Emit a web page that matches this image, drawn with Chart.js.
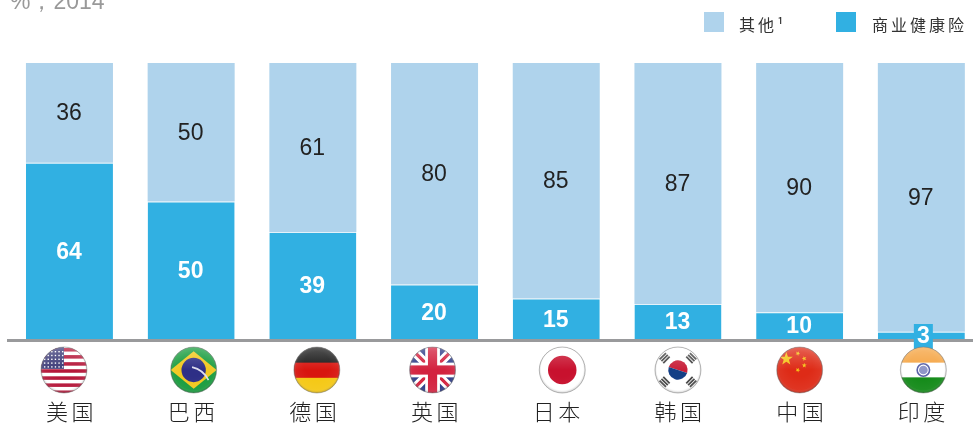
<!DOCTYPE html>
<html lang="zh">
<head>
<meta charset="utf-8">
<script src="https://cdn.jsdelivr.net/npm/chart.js@4/dist/chart.umd.min.js"></script>
<style>
html,body{margin:0;padding:0;background:#fff;overflow:hidden}
#wrap{position:relative;width:973px;height:425px;overflow:hidden}
#box{position:absolute;left:0;top:0;width:983px;height:425px}
#sub{position:absolute;left:10px;top:-14px;font:23px "Liberation Sans",Arial,sans-serif;color:#999;white-space:nowrap}
.lg{position:absolute;top:12px;height:20px;line-height:20px;font:400 16px "Noto Sans CJK SC",sans-serif;color:#333;letter-spacing:3px;white-space:nowrap}
.lg i{position:absolute;left:0;top:0;width:20px;height:20px}
.lg span{position:absolute;top:0;line-height:24px}
</style>
</head>
<body>
<div id="wrap">
<div id="box"><canvas id="c"></canvas></div>
<div id="sub"></div>
<div class="lg" id="l0" style="left:704px"><i></i><span style="left:35px"></span></div>
<div class="lg" id="l1" style="left:836px"><i></i><span style="left:36px"></span></div>
</div>
<script>
const subtitle = "%，2014";
const categories = ["美国","巴西","德国","英国","日本","韩国","中国","印度"];
const flagCodes = ["us","br","de","gb","jp","kr","cn","in"];
const seriesOtherName = "其他¹";
const seriesInsName = "商业健康险";
const otherValues = [36,50,61,80,85,87,90,97];
const insuranceValues = [64,50,39,20,15,13,10,3];
const colorOther = "#AFD3EC";
const colorIns = "#31B0E2";

document.getElementById("sub").textContent = subtitle;
[[ "l0",seriesOtherName,colorOther ],[ "l1",seriesInsName,colorIns ]].forEach(([id,t,col])=>{
  const e=document.getElementById(id);
  e.querySelector("i").style.background=col;
  e.querySelector("span").textContent=t;
});

function star(ctx,x,y,r,rot){
  ctx.beginPath();
  for(let i=0;i<10;i++){
    const a=rot-Math.PI/2+i*Math.PI/5, q=i%2?r*0.4:r;
    ctx.lineTo(x+Math.cos(a)*q,y+Math.sin(a)*q);
  }
  ctx.closePath();ctx.fill();
}
const painters = {
  us(c,r){
    c.fillStyle="#fff";c.fillRect(-r,-r,2*r,2*r);
    c.fillStyle="#B5173A";
    for(let i=0;i<7;i++){c.fillRect(-r,-r+i*2*r*2/13+1,2*r,2*r/13);}
    c.fillStyle="#3C3B78";c.fillRect(-r,-r,r*1.0,r*0.95);
    c.fillStyle="#fff";
    for(let a=0;a<5;a++)for(let b=0;b<6;b++){c.fillRect(-r+3+b*3.6,-r+4+a*3.8,1.4,1.4);}
  },
  br(c,r){
    c.fillStyle="#169B3C";c.fillRect(-r,-r,2*r,2*r);
    c.fillStyle="#F2C81E";c.beginPath();c.moveTo(-r,0);c.lineTo(0,-r*0.82);c.lineTo(r,0);c.lineTo(0,r*0.82);c.closePath();c.fill();
    c.fillStyle="#2E2F86";c.beginPath();c.arc(0,0,r*0.53,0,7);c.fill();
    c.strokeStyle="#DDE";c.lineWidth=1.6;c.beginPath();c.arc(-r*0.3,r*0.9,r*1.05,-1.35,-0.45);c.stroke();
  },
  de(c,r){
    c.fillStyle="#1A1A1A";c.fillRect(-r,-r,2*r,2*r*0.36);
    c.fillStyle="#D8150F";c.fillRect(-r,-r+2*r*0.34,2*r,2*r*0.34);
    c.fillStyle="#F5C814";c.fillRect(-r,-r+2*r*0.67,2*r,2*r*0.34);
  },
  gb(c,r){
    c.fillStyle="#2A3A86";c.fillRect(-r,-r,2*r,2*r);
    c.strokeStyle="#fff";c.lineWidth=r*0.38;
    c.beginPath();c.moveTo(-r,-r);c.lineTo(r,r);c.moveTo(r,-r);c.lineTo(-r,r);c.stroke();
    c.strokeStyle="#D3223F";c.lineWidth=r*0.14;c.stroke();
    c.fillStyle="#fff";c.fillRect(-r,-r*0.32,2*r,r*0.64);c.fillRect(-r*0.32,-r,r*0.64,2*r);
    c.fillStyle="#D3223F";c.fillRect(-r,-r*0.2,2*r,r*0.4);c.fillRect(-r*0.2,-r,r*0.4,2*r);
  },
  jp(c,r){
    c.fillStyle="#fff";c.fillRect(-r,-r,2*r,2*r);
    c.fillStyle="#C8112E";c.beginPath();c.arc(0,0,r*0.62,0,7);c.fill();
  },
  kr(c,r){
    c.fillStyle="#fff";c.fillRect(-r,-r,2*r,2*r);
    c.fillStyle="#C8203A";c.beginPath();c.arc(0,0,r*0.42,Math.PI*1.1,Math.PI*2.1);c.fill();
    c.fillStyle="#123F86";c.beginPath();c.arc(0,0,r*0.42,Math.PI*0.1,Math.PI*1.1);c.fill();
    c.fillStyle="#444";
    [[-1,-1],[1,-1],[-1,1],[1,1]].forEach(([a,b])=>{
      c.save();c.translate(a*r*0.58,b*r*0.52);c.rotate(Math.atan2(b,a)+Math.PI/2);
      c.fillRect(-4.5,-3.5,9,1.8);c.fillRect(-4.5,-0.9,9,1.8);c.fillRect(-4.5,1.7,9,1.8);c.restore();
    });
  },
  cn(c,r){
    c.fillStyle="#DE2B17";c.fillRect(-r,-r,2*r,2*r);
    c.fillStyle="#F5C518";
    star(c,-r*0.58,-r*0.48,r*0.3,0);
    star(c,-r*0.08,-r*0.72,r*0.11,0.5);
    star(c,r*0.2,-r*0.5,r*0.11,0.9);
    star(c,r*0.2,-r*0.2,r*0.11,0);
    star(c,-r*0.08,0,r*0.11,0.4);
  },
  in(c,r){
    c.fillStyle="#F5A442";c.fillRect(-r,-r,2*r,2*r*0.36);
    c.fillStyle="#fff";c.fillRect(-r,-r+2*r*0.34,2*r,2*r*0.34);
    c.fillStyle="#138A18";c.fillRect(-r,-r+2*r*0.66,2*r,2*r*0.36);
    c.strokeStyle="#5A62A8";c.lineWidth=1.6;c.beginPath();c.arc(0,0,r*0.27,0,7);c.stroke();
    c.fillStyle="#8F96C8";c.beginPath();c.arc(0,0,r*0.19,0,7);c.fill();
  }
};

const decorate = {
  id:"decorate",
  beforeDraw(chart){ chart.ctx.letterSpacing="3.5px"; },
  beforeDatasetsDraw(chart){ chart.ctx.letterSpacing="0px"; },
  afterDraw(chart){
    const ctx=chart.ctx, xs=chart.scales.x;
    ctx.save();
    ctx.letterSpacing="0px";
    ctx.textAlign="center";ctx.textBaseline="middle";
    chart.data.datasets.forEach((ds,di)=>{
      const meta=chart.getDatasetMeta(di);
      meta.data.forEach((bar,i)=>{
        const y=(bar.y+bar.base)/2;
        const v=ds.data[i];
        if(di===0){
          ctx.font='bold 23px "Liberation Sans",Arial,sans-serif';
          if(v<5){ctx.fillStyle=colorIns;ctx.fillRect(bar.x-7.5,324,19,28);}
          ctx.fillStyle="#fff";
        }else{
          ctx.font='23px "Liberation Sans",Arial,sans-serif';
          ctx.fillStyle="#222";
        }
        ctx.fillText(String(v),bar.x+(v<5&&di===0?2:-0.5),y+1);
      });
    });
    const nudge=[-5.5,2.5,4,-2,6,0,0,2];
    const r=23, cy=370;
    flagCodes.forEach((code,i)=>{
      const cx=xs.getPixelForTick(i)+nudge[i];
      ctx.save();
      ctx.translate(cx,cy);
      ctx.beginPath();ctx.arc(0,0,r,0,Math.PI*2);ctx.save();ctx.clip();
      painters[code](ctx,r);
      const sh=ctx.createRadialGradient(0,-r*0.25,r*0.55,0,0,r);
      sh.addColorStop(0,"rgba(255,255,255,0)");
      sh.addColorStop(0.8,"rgba(255,255,255,0.05)");
      sh.addColorStop(1,"rgba(60,60,60,0.3)");
      ctx.fillStyle=sh;ctx.fillRect(-r,-r,2*r,2*r);
      const gl=ctx.createLinearGradient(0,-r,0,0);
      gl.addColorStop(0,"rgba(255,255,255,0.25)");
      gl.addColorStop(1,"rgba(255,255,255,0)");
      ctx.fillStyle=gl;ctx.fillRect(-r,-r,2*r,r);
      ctx.restore();
      ctx.strokeStyle="rgba(120,120,120,0.6)";ctx.lineWidth=0.8;
      ctx.beginPath();ctx.arc(0,0,r,0,Math.PI*2);ctx.stroke();
      ctx.restore();
    });
    ctx.restore();
  }
};

new Chart(document.getElementById("c"),{
  type:"bar",
  data:{
    labels:categories,
    datasets:[
      {label:seriesInsName,data:insuranceValues,backgroundColor:colorIns,borderColor:"#E4F2FA",borderWidth:{top:1},borderSkipped:false,barPercentage:0.715,categoryPercentage:1},
      {label:seriesOtherName,data:otherValues,backgroundColor:colorOther,borderWidth:0,barPercentage:0.715,categoryPercentage:1}
    ]
  },
  options:{
    responsive:true,maintainAspectRatio:false,animation:false,
    layout:{padding:{left:8.6,right:0.8,top:63,bottom:0}},
    plugins:{legend:{display:false},tooltip:{enabled:false},title:{display:false}},
    scales:{
      x:{stacked:true,
        afterFit(scale){scale.height=85;scale.paddingLeft=0;scale.paddingRight=0;},
        grid:{display:false,drawTicks:false},
        border:{display:true,color:"#999A9C",width:3,z:1},
        ticks:{padding:58,labelOffset:2,autoSkip:false,maxRotation:0,color:"#222",font:{family:'"Noto Sans CJK SC",sans-serif',size:22,weight:"300"}}
      },
      y:{stacked:true,display:false,min:0,max:100}
    }
  },
  plugins:[decorate]
});
</script>
</body>
</html>
